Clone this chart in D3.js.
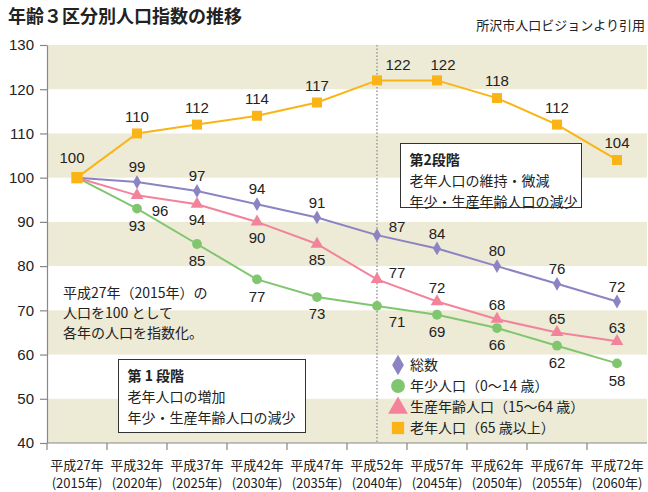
<!DOCTYPE html>
<html>
<head>
<meta charset="utf-8">
<script src="https://cdn.jsdelivr.net/npm/d3@7"></script>
<style>
  body { margin: 0; background: #fff; }
  svg { display: block; font-family: "Liberation Sans", Arial, sans-serif; }
  .jp { font-family: "Noto Sans CJK JP", sans-serif; }
</style>
</head>
<body>
<div id="chart"></div>
<script>
var width = 648;
var height = 492;

// data
var years = ["2015", "2020", "2025", "2030", "2035", "2040", "2045", "2050", "2055", "2060"];
var heisei = ["平成27年", "平成32年", "平成37年", "平成42年", "平成47年", "平成52年", "平成57年", "平成62年", "平成67年", "平成72年"];
var total = [100, 99, 97, 94, 91, 87, 84, 80, 76, 72];
var young = [100, 93, 85, 77, 73, 71, 69, 66, 62, 58];
var working = [100, 96, 94, 90, 85, 77, 72, 68, 65, 63];
var elderly = [100, 110, 112, 114, 117, 122, 122, 118, 112, 104];
var yTicks = [40, 50, 60, 70, 80, 90, 100, 110, 120, 130];

var margin = {left: 47, top: 45, right: 1, bottom: 49};

var svg = d3.select("#chart").append("svg")
  .attr("width", width)
  .attr("height", height);

var x = d3.scaleBand().domain(years).range([margin.left, width - margin.right]);
var y = d3.scaleLinear().domain([40, 130]).range([height - margin.bottom, margin.top]);
function cx(i) { return x(years[i]) + x.bandwidth() / 2; }

// background bands
svg.append("g").selectAll("rect")
  .data(yTicks.slice(0, -1).filter(function(d) { return (d / 10) % 2 == 0; }))
  .enter().append("rect")
  .attr("x", margin.left)
  .attr("width", width - margin.right - margin.left)
  .attr("y", function(d) { return y(d + 10); })
  .attr("height", function(d) { return y(d) - y(d + 10); })
  .attr("fill", "#edead6");

// dotted line at 2040
svg.append("line")
  .attr("x1", cx(5)).attr("x2", cx(5))
  .attr("y1", y(130)).attr("y2", y(40))
  .attr("stroke", "#999").attr("stroke-width", 1.5)
  .attr("stroke-dasharray", "1.5,2");

// y axis
var yAxis = d3.axisLeft(y).tickValues(yTicks).tickSize(7).tickSizeOuter(0).tickPadding(6);
var gy = svg.append("g").attr("transform", "translate(" + margin.left + ",0)").call(yAxis);
gy.selectAll("path, line").attr("stroke", "#888").attr("stroke-width", 1.2);
gy.selectAll("text").attr("font-size", 15).attr("fill", "#222")
  .attr("font-family", "Liberation Sans, Arial, sans-serif");

// x axis
svg.append("line")
  .attr("x1", margin.left).attr("x2", width - margin.right)
  .attr("y1", y(40)).attr("y2", y(40))
  .attr("stroke", "#888").attr("stroke-width", 1.2);
svg.append("g").selectAll("line")
  .data(years)
  .enter().append("line")
  .attr("x1", function(d) { return x(d); }).attr("x2", function(d) { return x(d); })
  .attr("y1", y(40)).attr("y2", y(40) + 7)
  .attr("stroke", "#888").attr("stroke-width", 1.2);
var xl = svg.append("g").attr("class", "jp").selectAll("text")
  .data(years)
  .enter().append("text")
  .attr("x", function(d, i) { return cx(i); })
  .attr("text-anchor", "middle")
  .attr("font-size", 13)
  .attr("fill", "#222");
xl.append("tspan").attr("x", function(d, i) { return cx(i); }).attr("y", 470)
  .text(function(d, i) { return heisei[i]; });
xl.append("tspan").attr("x", function(d, i) { return cx(i); }).attr("y", 488)
  .text(function(d) { return "(" + d + "年)"; });

// series
var series = [
  {name: "総数", values: total, color: "#8c83c3", shape: d3.symbolDiamond, size: 55, lsize: 120},
  {name: "年少人口（0〜14 歳）", values: young, color: "#80c66f", shape: d3.symbolCircle, size: 75, lsize: 150},
  {name: "生産年齢人口（15〜64 歳）", values: working, color: "#f2839b", shape: d3.symbolTriangle, size: 70, lsize: 170},
  {name: "老年人口（65 歳以上）", values: elderly, color: "#fbb416", shape: d3.symbolSquare, size: 100, lsize: 150}
];

var line = d3.line()
  .x(function(d, i) { return cx(i); })
  .y(function(d) { return y(d); });

series.forEach(function(s) {
  svg.append("path")
    .datum(s.values)
    .attr("d", line)
    .attr("fill", "none")
    .attr("stroke", s.color)
    .attr("stroke-width", 2);
});
series.forEach(function(s, k) {
  svg.append("g").selectAll("path")
    .data(s.values)
    .enter().append("path")
    .attr("transform", function(d, i) { return "translate(" + cx(i) + "," + y(d) + ")"; })
    .attr("d", function(d, i) {
      var sz = s.size;
      if (i == 0 && k != 3) sz = 0;
      if (i == 0 && k == 3) sz = 130;
      return d3.symbol().type(s.shape).size(sz)();
    })
    .attr("fill", s.color);
});

// value labels
function labelPos(k, i) {
  if (k == 3) {
    if (i == 0) return [-5, -20];
    if (i == 5) return [21, -16];
    if (i == 6) return [6, -16];
    return [0, -17];
  }
  if (i == 0) return null;
  if (k == 0) {
    if (i == 5) return [20, -8];
    return [0, -15];
  }
  if (k == 1) {
    if (i == 5) return [20, 16];
    return [0, 17];
  }
  if (k == 2) {
    if (i == 1) return [23, 15];
    if (i < 5) return [0, 16];
    if (i == 5) return [20, -7];
    return [0, -14];
  }
}
series.forEach(function(s, k) {
  svg.append("g").selectAll("text")
    .data(s.values.map(function(v, i) { return {v: v, i: i, p: labelPos(k, i)}; })
      .filter(function(d) { return d.p; }))
    .enter().append("text")
    .attr("x", function(d) { return cx(d.i) + d.p[0]; })
    .attr("y", function(d) { return y(d.v) + d.p[1]; })
    .attr("dy", "0.35em")
    .attr("text-anchor", "middle")
    .attr("font-size", 15)
    .attr("fill", "#222")
    .text(function(d) { return d.v; });
});

// legend
var legend = svg.append("g").attr("class", "jp");
series.forEach(function(s, k) {
  var ly = 365 + k * 21;
  legend.append("path")
    .attr("transform", "translate(398," + (ly + (k == 2 ? 1 : 0)) + ")")
    .attr("d", d3.symbol().type(s.shape).size(s.lsize)())
    .attr("fill", s.color);
  legend.append("text")
    .attr("x", 410).attr("y", ly).attr("dy", "0.35em")
    .attr("font-size", 14).attr("fill", "#222")
    .text(s.name);
});

// annotation boxes
function box(x0, y0, w, h, lines) {
  var g = svg.append("g").attr("class", "jp");
  g.append("rect").attr("x", x0).attr("y", y0).attr("width", w).attr("height", h)
    .attr("fill", "#fff").attr("stroke", "#333").attr("stroke-width", 1);
  lines.forEach(function(t, i) {
    g.append("text")
      .attr("x", x0 + 9).attr("y", y0 + 17 + i * 21).attr("dy", "0.35em")
      .attr("font-size", 14).attr("fill", "#222")
      .attr("font-weight", i == 0 ? "bold" : "normal")
      .text(t);
  });
}
box(400.5, 143.5, 181, 64, ["第2段階", "老年人口の維持・微減", "年少・生産年齢人口の減少"]);
box(118.5, 359.5, 187, 73, ["第 1 段階", "老年人口の増加", "年少・生産年齢人口の減少"]);

var note = svg.append("g").attr("class", "jp");
["平成27年（2015年）の", "人口を100 として", "各年の人口を指数化。"].forEach(function(t, i) {
  note.append("text")
    .attr("x", 63).attr("y", 293 + i * 20).attr("dy", "0.35em")
    .attr("font-size", 14).attr("fill", "#222")
    .text(t);
});

// titles
svg.append("text").attr("class", "jp")
  .attr("x", 8).attr("y", 23)
  .attr("font-size", 18).attr("font-weight", "bold").attr("fill", "#222")
  .text("年齢３区分別人口指数の推移");
svg.append("text").attr("class", "jp")
  .attr("x", 645).attr("y", 30).attr("text-anchor", "end")
  .attr("font-size", 13).attr("fill", "#222")
  .text("所沢市人口ビジョンより引用");
</script>
</body>
</html>
